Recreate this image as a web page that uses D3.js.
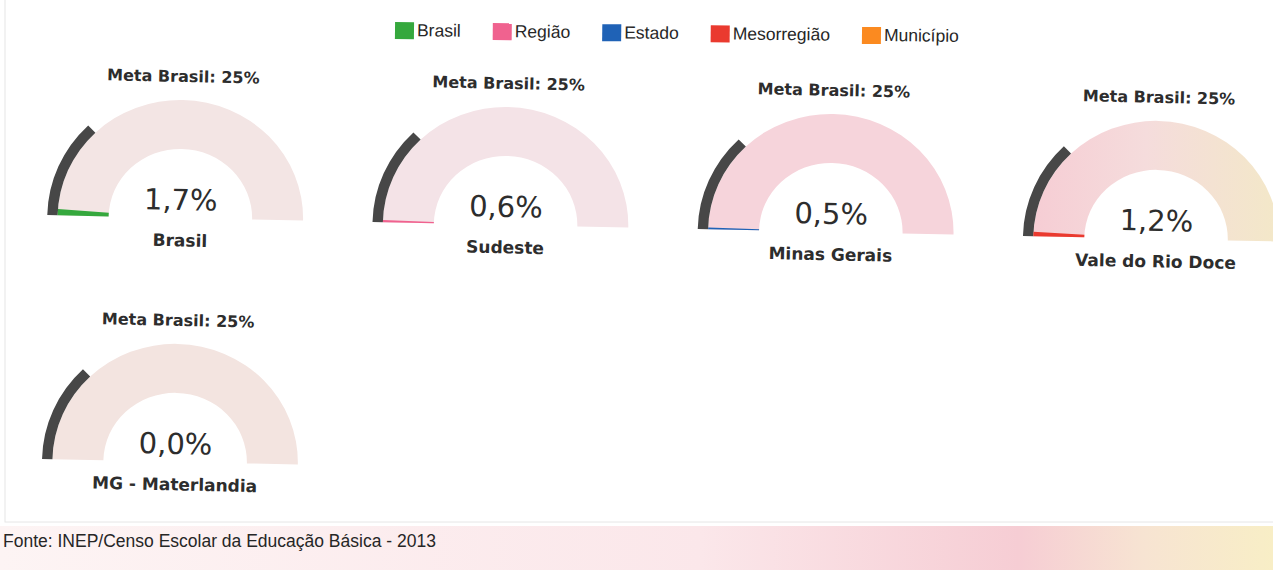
<!DOCTYPE html>
<meta charset="utf-8">
<style>
body { margin: 0; background: #fff; }
text { fill: #2d2d2d; }
.meta, .label { font-family: "DejaVu Sans", sans-serif; font-weight: bold; }
.meta { font-size: 16px; }
.label { font-size: 17px; }
.value { font-family: "DejaVu Sans", sans-serif; font-size: 29px; }
.legend text, .fonte { font-family: "Liberation Sans", Arial, sans-serif; font-size: 17.5px; fill: #262626; }
</style>
<body>
<script src="https://cdn.jsdelivr.net/npm/d3@7"></script>
<script>

var places = ["Brasil", "Sudeste", "Minas Gerais", "Vale do Rio Doce", "MG - Materlandia"];
var levels = ["Brasil", "Região", "Estado", "Mesorregião", "Município"];
var values = [1.7, 0.6, 0.5, 1.2, 0.0];
var meta = 25;
var levelColors = ["#35a83d", "#f0628f", "#1f62b6", "#ea3a2f", "#fb8a20"];
var bandTints = ["#f3e5e4", "#f4e3e7", "#f6d4db", "url(#tint4)", "#f3e4e0"];

var width = 1273, height = 570;

var svg = d3.select("body").append("svg")
    .attr("width", width)
    .attr("height", height);

var defs = svg.append("defs");
var g4 = defs.append("linearGradient").attr("id", "tint4");
g4.append("stop").attr("offset", "0").attr("stop-color", "#f6cdd4");
g4.append("stop").attr("offset", "0.45").attr("stop-color", "#f5dcdc");
g4.append("stop").attr("offset", "1").attr("stop-color", "#f3e8c8");
var gf = defs.append("linearGradient").attr("id", "foot");
gf.append("stop").attr("offset", "0").attr("stop-color", "#fdf4f4");
gf.append("stop").attr("offset", "0.55").attr("stop-color", "#fbe7ea");
gf.append("stop").attr("offset", "0.8").attr("stop-color", "#f6cdd4");
gf.append("stop").attr("offset", "0.9").attr("stop-color", "#f7e4d2");
gf.append("stop").attr("offset", "1").attr("stop-color", "#f8eec6");

// footer strip and box edge from the scanned page
svg.append("rect").attr("x", 0).attr("y", 526).attr("width", width).attr("height", 44)
    .attr("fill", "url(#foot)");
svg.append("rect").attr("x", 5).attr("y", -2).attr("width", width).attr("height", 524)
    .attr("fill", "none").attr("stroke", "#e6e6e6");

var pt = d3.formatLocale({decimal: ",", thousands: ".", grouping: [3], currency: ["R$", ""]}).format(".1f");

var angle = d3.scaleLinear().domain([0, 100]).range([-Math.PI / 2, Math.PI / 2]);
var colX = d3.scaleLinear().domain([0, 1]).range([185, 510.3]);
var rowY = d3.scaleLinear().domain([0, 1]).range([214, 458]);

var rIn = 69, rOut = 118, rMark = 128;
var arc = d3.arc();

var page = svg.append("g").attr("transform", "rotate(1.23)");

var gauges = page.selectAll(".gauge")
    .data(places)
  .enter().append("g")
    .attr("class", "gauge")
    .attr("transform", function(d, i) {
      return "translate(" + colX(i % 4) + "," + rowY(Math.floor(i / 4)) + ")";
    });

var dial = gauges.append("g").attr("transform", "scale(1.04,1)");

dial.append("path")
    .attr("fill", function(d, i) { return bandTints[i]; })
    .attr("d", arc({innerRadius: rIn, outerRadius: rOut, startAngle: angle(0), endAngle: angle(100)}));

dial.append("path")
    .attr("fill", "#474747")
    .attr("d", arc({innerRadius: rOut, outerRadius: rMark, startAngle: angle(0), endAngle: angle(meta)}));

dial.append("path")
    .attr("fill", function(d, i) { return levelColors[i]; })
    .attr("d", function(d, i) {
      return arc({innerRadius: rIn, outerRadius: rOut, startAngle: angle(0), endAngle: angle(values[i])});
    });

gauges.append("text")
    .attr("class", "meta")
    .attr("text-anchor", "middle")
    .attr("y", -136)
    .text("Meta Brasil: " + meta + "%");

gauges.append("text")
    .attr("class", "value")
    .attr("text-anchor", "middle")
    .attr("y", -8)
    .text(function(d, i) { return pt(values[i]) + "%"; });

gauges.append("text")
    .attr("class", "label")
    .attr("text-anchor", "middle")
    .attr("y", 28.5)
    .text(function(d) { return d; });

// legend
var legend = svg.append("g").attr("class", "legend").attr("transform", "translate(395,30) rotate(0.6)");
var x0 = 0;
levels.forEach(function(name, i) {
  var item = legend.append("g").attr("transform", "translate(" + x0 + ",0)");
  item.append("rect").attr("x", 0).attr("y", -8).attr("width", 19).attr("height", 17)
      .attr("fill", levelColors[i]);
  var t = item.append("text").attr("x", 22).attr("y", 6).text(name);
  x0 += 22 + t.node().getComputedTextLength() + 32;
});

svg.append("text")
    .attr("class", "fonte")
    .attr("x", 3)
    .attr("y", 547)
    .text("Fonte: INEP/Censo Escolar da Educação Básica - 2013");

</script>
</body>
